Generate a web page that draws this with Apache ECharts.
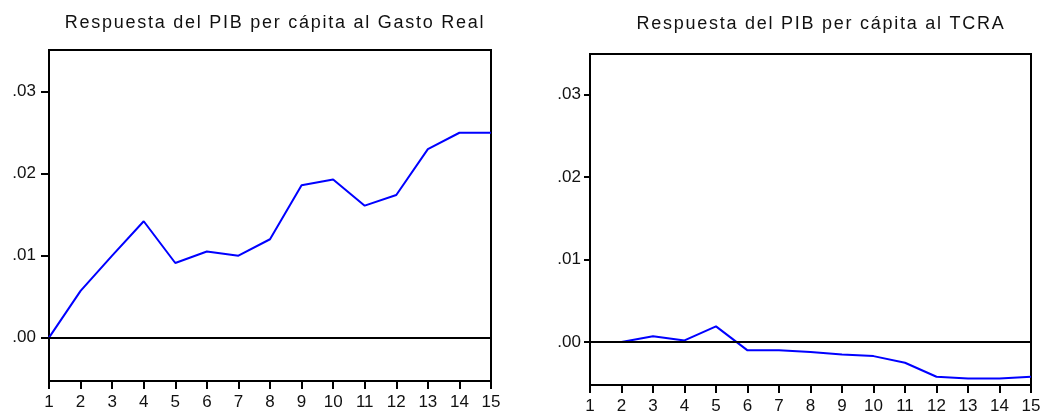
<!DOCTYPE html>
<html>
<head>
<meta charset="utf-8">
<script src="https://cdn.jsdelivr.net/npm/echarts@6/dist/echarts.min.js"></script>
<style>
  html, body { margin: 0; padding: 0; background: #fff; }
  #chart { width: 1046px; height: 415px; }
</style>
</head>
<body>
<div id="chart"></div>
<script>
// Impulse-response horizons
const periods = [1, 2, 3, 4, 5, 6, 7, 8, 9, 10, 11, 12, 13, 14, 15];

// Response of GDP per capita to real government spending
const respGasto = [0.0000, 0.0057, 0.0100, 0.0142, 0.0091, 0.0105, 0.0100, 0.0120,
                   0.0186, 0.0193, 0.0161, 0.0174, 0.0230, 0.0250, 0.0250];

// Response of GDP per capita to the real exchange rate (TCRA)
const respTCRA = [0.0000, 0.0000, 0.0007, 0.0002, 0.0019, -0.0010, -0.0010, -0.0012,
                  -0.0015, -0.0017, -0.0025, -0.0042, -0.0044, -0.0044, -0.0042];

// Tick labels for the value axis
const yTicks = [0.00, 0.01, 0.02, 0.03];
const yTickLabels = ['.00', '.01', '.02', '.03'];

const titles = ['Respuesta del PIB per cápita al Gasto Real', 'Respuesta del PIB per cápita al TCRA'];

const FONT = 'Arial, sans-serif';
// Titles use their own family name so they can be drawn with wider tracking
const TITLE_FONT = 'Liberation Sans, Arial, sans-serif';

// Spaced-out lettering for the panel titles only
(function () {
  const proto = CanvasRenderingContext2D.prototype;
  const origFill = proto.fillText;
  proto.fillText = function (text, x, y, maxWidth) {
    if ('letterSpacing' in this) {
      this.letterSpacing = this.font.indexOf('Liberation Sans') >= 0 ? '1.75px' : '0px';
    }
    return maxWidth === undefined ? origFill.call(this, text, x, y) : origFill.call(this, text, x, y, maxWidth);
  };
})();

function pairs(vals) { return periods.map((p, i) => [p, vals[i]]); }

function xAxisFor(idx, labelMargin) {
  return {
    gridIndex: idx, type: 'value', min: 1, max: 15, interval: 1,
    axisLine: { show: true, onZero: false, lineStyle: { color: '#000', width: 2 } },
    axisTick: { show: true, inside: false, length: 8, lineStyle: { color: '#000', width: 2 } },
    axisLabel: { color: '#111', fontSize: 17, fontFamily: FONT, margin: labelMargin },
    splitLine: { show: false }
  };
}

function yAxisFor(idx, min, max, tickLen, labelMargin) {
  return {
    gridIndex: idx, type: 'value', min: min, max: max,
    axisLine: { show: true, lineStyle: { color: '#000', width: 2 } },
    axisTick: { show: true, inside: false, length: tickLen, customValues: yTicks,
                lineStyle: { color: '#000', width: 2 } },
    axisLabel: { color: '#111', fontSize: 17, fontFamily: FONT, margin: labelMargin,
                 customValues: yTicks,
                 formatter: v => yTickLabels[yTicks.findIndex(t => Math.abs(t - v) < 1e-9)] },
    splitLine: { show: false }
  };
}

function lineSeries(idx, vals) {
  return {
    type: 'line', xAxisIndex: idx, yAxisIndex: idx, data: pairs(vals),
    showSymbol: false, symbol: 'none', animation: false,
    lineStyle: { color: '#0000ff', width: 2 },
    markLine: {
      silent: true, symbol: 'none', animation: false,
      label: { show: false },
      lineStyle: { color: '#000', width: 2, type: 'solid' },
      data: [{ yAxis: 0 }]
    }
  };
}

const chart = echarts.init(document.getElementById('chart'), null, { renderer: 'canvas' });
chart.setOption({
  animation: false,
  backgroundColor: '#fff',
  title: [
    { text: titles[0], left: 270, top: 9, textAlign: 'center',
      textStyle: { color: '#111', fontSize: 18, fontWeight: 'normal', fontFamily: TITLE_FONT } },
    { text: titles[1], left: 816, top: 10, textAlign: 'center',
      textStyle: { color: '#111', fontSize: 18, fontWeight: 'normal', fontFamily: TITLE_FONT } }
  ],
  grid: [
    { left: 49, right: 555, top: 50, bottom: 34, show: true, borderColor: '#000', borderWidth: 2 },
    { left: 590, right: 15, top: 54, bottom: 29, show: true, borderColor: '#000', borderWidth: 2 }
  ],
  xAxis: [xAxisFor(0, 13), xAxisFor(1, 13)],
  yAxis: [yAxisFor(0, -0.0053, 0.0351, 8, 13), yAxisFor(1, -0.0052, 0.0349, 6, 9)],
  series: [lineSeries(0, respGasto), lineSeries(1, respTCRA)]
});
</script>
</body>
</html>
